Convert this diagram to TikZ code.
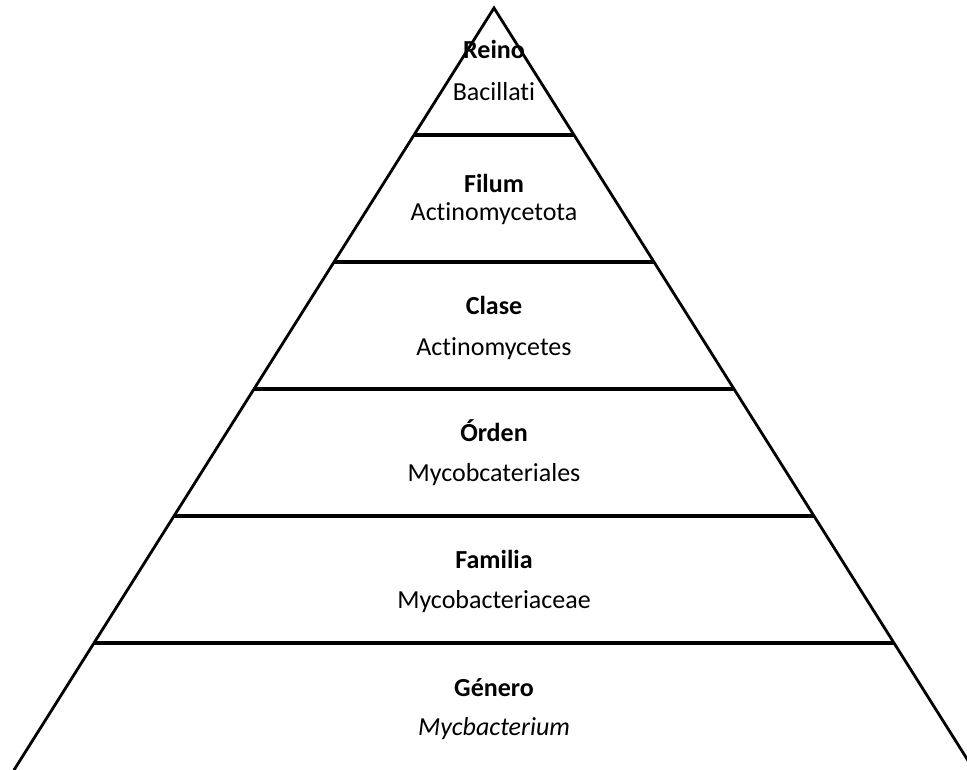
\documentclass[tikz,border=0pt]{standalone}
\usepackage{fontspec}
\setmainfont{Carlito}[Ligatures=NoCommon]
\usepackage{tikz}
\usetikzlibrary{calc}

\begin{document}
\begin{tikzpicture}[
    x=1pt, y=-1pt,
    edge/.style={line width=2.8pt, line cap=round},
    band/.style={line width=3.3pt},
    rank/.style={anchor=base, font=\fontsize{26}{31}\selectfont\bfseries},
    taxon/.style={anchor=base, font=\fontsize{26}{31}\selectfont},
]

\useasboundingbox (0,0) rectangle (967,770);
\clip (0,0) rectangle (967,770);

\coordinate (apex) at (494,8);
\coordinate (bl) at (14,770);
\coordinate (br) at (974,770);

\draw[edge] (bl) -- (apex) -- (br);

\draw[band] ($(apex)!1/6!(bl)$) -- ($(apex)!1/6!(br)$);
\draw[band] ($(apex)!2/6!(bl)$) -- ($(apex)!2/6!(br)$);
\draw[band] ($(apex)!3/6!(bl)$) -- ($(apex)!3/6!(br)$);
\draw[band] ($(apex)!4/6!(bl)$) -- ($(apex)!4/6!(br)$);
\draw[band] ($(apex)!5/6!(bl)$) -- ($(apex)!5/6!(br)$);

\node[rank] (reino) at (494,59) {Reino};
\node[taxon] (bacillati) at (494,101) {Bacillati};

\node[rank] (filum) at (494,193) {Filum};
\node[taxon] (actinomycetota) at (494,221) {Actinomycetota};

\node[rank] (clase) at (494,315) {Clase};
\node[taxon] (actinomycetes) at (494,355) {Actinomycetes};

\node[rank] (orden) at (494,441) {Órden};
\node[taxon] (mycobcateriales) at (494,481) {Mycobcateriales};

\node[rank] (familia) at (494,568) {Familia};
\node[taxon] (mycobacteriaceae) at (494,608) {Mycobacteriaceae};

\node[rank] (genero) at (494,696) {Género};
\node[taxon] (mycbacterium) at (494,735) {\itshape Mycbacterium};

\end{tikzpicture}
\end{document}
